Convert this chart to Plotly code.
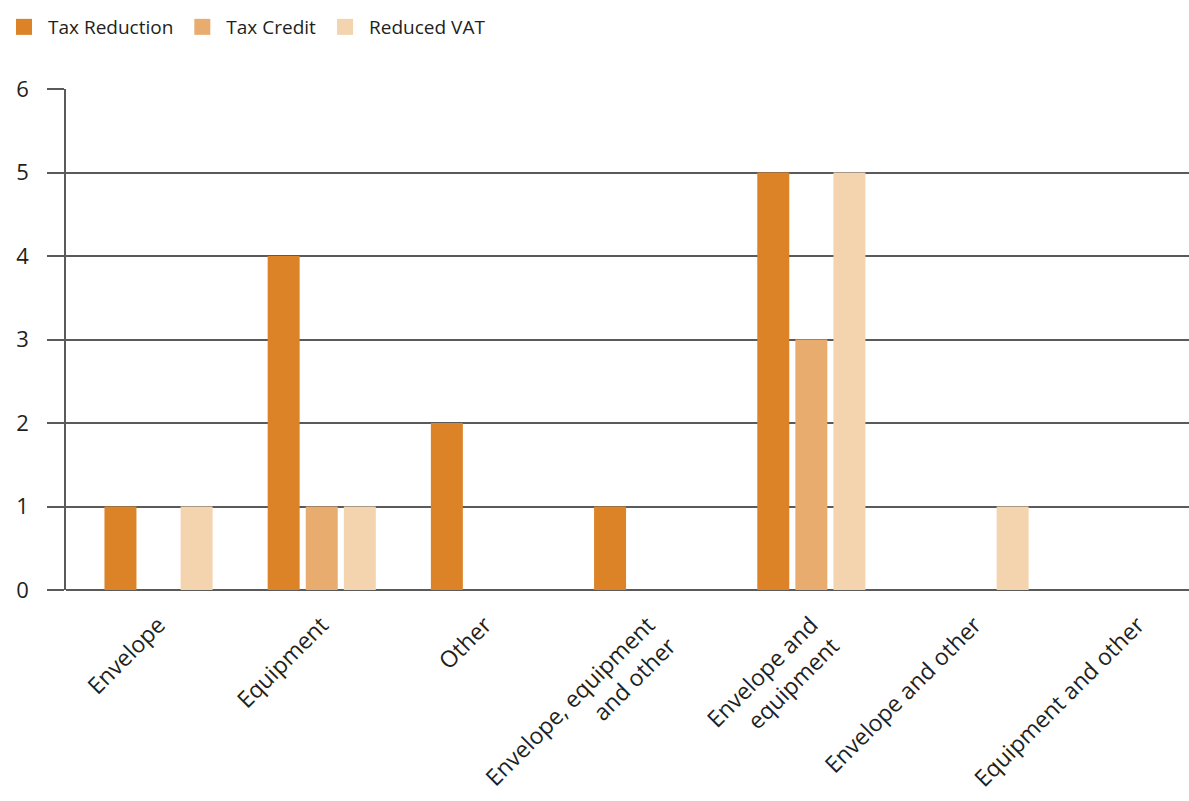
import plotly.graph_objects as go

categories = [
    "Envelope",
    "Equipment",
    "Other",
    "Envelope, equipment<br>and other",
    "Envelope and<br>equipment",
    "Envelope and other",
    "Equipment and other",
]
tax_reduction = [1, 4, 2, 1, 5, 0, 0]
tax_credit = [0, 1, 0, 0, 3, 0, 0]
reduced_vat = [1, 1, 0, 0, 5, 1, 0]

series = [
    ("Tax Reduction", tax_reduction, "#DC8327"),
    ("Tax Credit", tax_credit, "#E8AC6F"),
    ("Reduced VAT", reduced_vat, "#F4D3AF"),
]

FONT = "Open Sans"
GRID = "#5a5a5a"
TEXT = "#231f20"

fig = go.Figure()
for name, vals, color in series:
    fig.add_trace(go.Bar(
        name=name, x=list(range(len(categories))), y=vals,
        marker=dict(color=color, line=dict(width=0)),
        showlegend=False, legendgroup=name,
    ))
# legend entries with large square swatches
for name, vals, color in series:
    fig.add_trace(go.Scatter(
        name=name, x=[None], y=[None], mode="markers",
        marker=dict(symbol="square", size=22, color=color),
        legendgroup=name, showlegend=True,
    ))

fig.update_layout(
    width=1189, height=801,
    margin=dict(l=66, r=0, t=89, b=211, autoexpand=False),
    paper_bgcolor="white", plot_bgcolor="white",
    barmode="group", bargap=0.30, bargroupgap=0.16,
    font=dict(family=FONT, color=TEXT),
    showlegend=True,
    legend=dict(
        orientation="h", xref="container", x=-0.003, xanchor="left",
        yref="container", y=0.99, yanchor="top",
        font=dict(size=19, color=TEXT), itemwidth=38,
        traceorder="normal", itemsizing="trace",
    ),
)

fig.update_xaxes(
    type="linear", range=[-0.567, 6.314], automargin=False,
    tickmode="array", tickvals=list(range(len(categories))), ticktext=categories,
    tickangle=-45, tickfont=dict(size=23, color=TEXT),
    ticklabelstandoff=16,
    showgrid=False, showline=False, zeroline=False, ticks="",
)
fig.update_yaxes(
    range=[0, 6], dtick=1, tick0=0, automargin=False,
    showgrid=True, gridcolor=GRID, gridwidth=1.5,
    zeroline=True, zerolinecolor=GRID, zerolinewidth=1.5,
    showline=True, linecolor=GRID, linewidth=1.5,
    ticks="outside", ticklen=17, tickcolor=GRID, tickwidth=1.5,
    ticklabelstandoff=14,
    tickfont=dict(size=22, color=TEXT),
)

fig.write_html("out.html")
